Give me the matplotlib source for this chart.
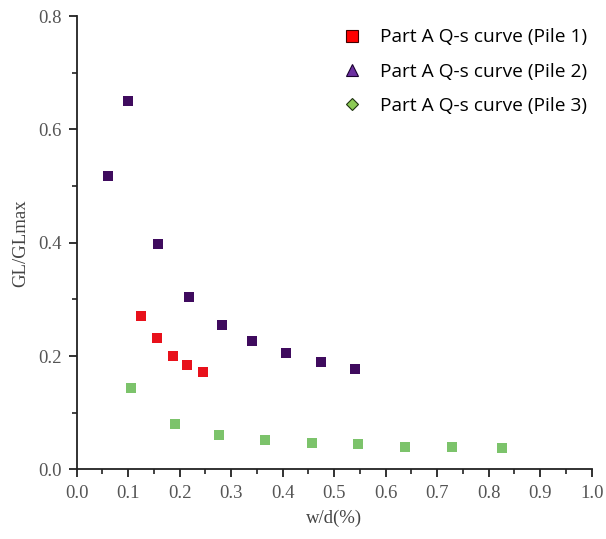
import matplotlib
matplotlib.use("Agg")
import matplotlib.pyplot as plt
from matplotlib.lines import Line2D
from matplotlib.ticker import MultipleLocator, FormatStrFormatter

# w/d (%) and GL/GLmax for the three piles
pile1_x = [0.125, 0.155, 0.186, 0.214, 0.245]
pile1_y = [0.271, 0.231, 0.200, 0.185, 0.172]

pile2_x = [0.061, 0.100, 0.158, 0.219, 0.282, 0.340, 0.406, 0.474, 0.540]
pile2_y = [0.517, 0.650, 0.398, 0.305, 0.254, 0.227, 0.205, 0.189, 0.177]

pile3_x = [0.105, 0.191, 0.277, 0.366, 0.457, 0.546, 0.638, 0.729, 0.825]
pile3_y = [0.144, 0.081, 0.061, 0.052, 0.047, 0.044, 0.040, 0.039, 0.037]

labels = ["Part A Q-s curve (Pile 1)",
          "Part A Q-s curve (Pile 2)",
          "Part A Q-s curve (Pile 3)"]

red = "#e8111b"
purple = "#3f0b5e"
green = "#7cc36b"

fig = plt.figure(figsize=(6.06, 5.39), dpi=100)
ax = fig.add_axes([0.1266, 0.1291, 0.8498, 0.8412])

ax.scatter(pile1_x, pile1_y, marker="s", s=48, color=red, linewidths=0, zorder=3)
ax.scatter(pile2_x, pile2_y, marker="s", s=48, color=purple, linewidths=0, zorder=3)
ax.scatter(pile3_x, pile3_y, marker="s", s=48, color=green, linewidths=0, zorder=3)

ax.set_xlim(0, 1.0)
ax.set_ylim(0, 0.8)
ax.xaxis.set_major_locator(MultipleLocator(0.1))
ax.xaxis.set_minor_locator(MultipleLocator(0.05))
ax.yaxis.set_major_locator(MultipleLocator(0.2))
ax.yaxis.set_minor_locator(MultipleLocator(0.1))
ax.xaxis.set_major_formatter(FormatStrFormatter("%.1f"))
ax.yaxis.set_major_formatter(FormatStrFormatter("%.1f"))

for side in ("top", "right"):
    ax.spines[side].set_visible(False)
for side in ("left", "bottom"):
    ax.spines[side].set_linewidth(1.3)
    ax.spines[side].set_color("#222222")

ax.tick_params(which="major", direction="out", length=6, width=1.3,
               colors="#222222", labelcolor="#555555", labelsize=13.5, pad=5)
ax.tick_params(which="minor", direction="out", length=3.5, width=1.2,
               colors="#222222")
for lbl in ax.get_xticklabels() + ax.get_yticklabels():
    lbl.set_fontfamily("Liberation Serif")

ax.set_xlabel("w/d(%)", fontsize=13.5, family="Liberation Serif",
              color="#444444", labelpad=6)
ax.set_ylabel("GL/GLmax", fontsize=13.5, family="Liberation Serif",
              color="#444444", labelpad=6)

handles = [
    Line2D([], [], linestyle="none", marker="s", markersize=8,
           markerfacecolor="#ff0000", markeredgecolor="#400000", markeredgewidth=0.8),
    Line2D([], [], linestyle="none", marker="^", markersize=8,
           markerfacecolor="#6b2fa0", markeredgecolor="#1a0030", markeredgewidth=0.8),
    Line2D([], [], linestyle="none", marker="D", markersize=6.5,
           markerfacecolor="#8ccb55", markeredgecolor="#1f3310", markeredgewidth=0.8),
]
ax.legend(handles, labels, loc="upper right", bbox_to_anchor=(1.0136, 0.998),
          frameon=False, prop={"family": "Open Sans", "size": 13.8},
          handlelength=1.0, handletextpad=0.95, labelspacing=0.85,
          borderaxespad=0.2)

fig.savefig("out.png", dpi=100, facecolor="white")
